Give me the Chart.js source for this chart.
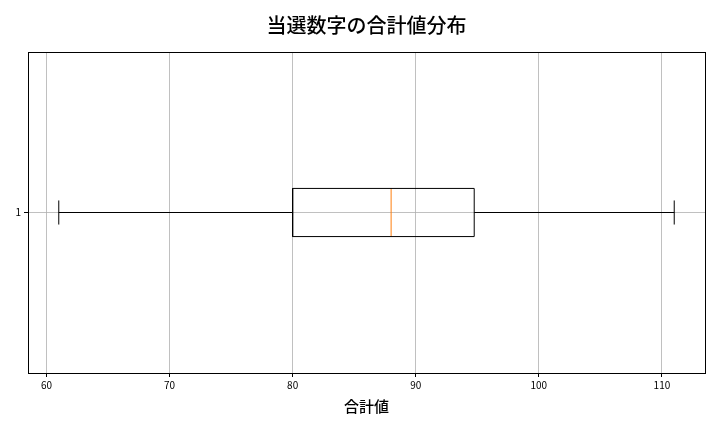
<!DOCTYPE html>
<html>
<head>
<meta charset="utf-8">
<script src="https://cdn.jsdelivr.net/npm/chart.js@4/dist/chart.umd.min.js"></script>
<style>
  html, body { margin: 0; padding: 0; background: #fff; }
  #wrap { width: 720px; height: 432px; }
</style>
</head>
<body>
<div id="wrap"><canvas id="boxChart" width="720" height="432"></canvas></div>
<script>
// ————— Datos —————
const categories = ['1'];
const whiskerLow  = [61];
const q1          = [80];
const medians     = [88];
const q3          = [94.75];
const whiskerHigh = [111];
const xTicks      = [60, 70, 80, 90, 100, 110];
const xRange      = [58.5, 113.5];

const BOX_W = 0.15;   // ancho de la caja en unidades del eje y
const CAP_W = 0.075;  // ancho de los topes

const FONT = '"Noto Sans CJK JP", "Noto Sans", sans-serif';
const BLACK = '#000000';
const GRID  = '#b0b0b0';
const ORANGE = '#ff7f0e';

// ————— Construir datasets desde las estadísticas —————
const datasets = [];
const line = (pts, color) => ({
  type: 'scatter',
  data: pts,
  showLine: true,
  borderColor: color,
  borderWidth: 1,
  pointRadius: 0,
  fill: false
});

categories.forEach((c, i) => {
  const pos = i + 1;
  const b = BOX_W / 2, k = CAP_W / 2;
  // caja
  datasets.push(line([
    { x: q1[i], y: pos - b }, { x: q3[i], y: pos - b },
    { x: q3[i], y: pos + b }, { x: q1[i], y: pos + b },
    { x: q1[i], y: pos - b }
  ], BLACK));
  // bigotes
  datasets.push(line([{ x: whiskerLow[i], y: pos }, { x: q1[i], y: pos }], BLACK));
  datasets.push(line([{ x: q3[i], y: pos }, { x: whiskerHigh[i], y: pos }], BLACK));
  // topes
  datasets.push(line([{ x: whiskerLow[i], y: pos - k }, { x: whiskerLow[i], y: pos + k }], BLACK));
  datasets.push(line([{ x: whiskerHigh[i], y: pos - k }, { x: whiskerHigh[i], y: pos + k }], BLACK));
  // mediana
  datasets.push(line([{ x: medians[i], y: pos - b }, { x: medians[i], y: pos + b }], ORANGE));
});

// marco completo alrededor del área + título centrado sobre el área
const framePlugin = {
  id: 'frame',
  afterLayout(chart) {
    const t = chart.titleBlock, a = chart.chartArea;
    if (t) { t.left = a.left; t.right = a.right; t.width = a.right - a.left; }
  },
  afterDraw(chart) {
    const { ctx, chartArea: a } = chart;
    ctx.save();
    ctx.strokeStyle = BLACK;
    ctx.lineWidth = 1;
    ctx.strokeRect(a.left + 0.5, a.top + 0.5, a.right - a.left, a.bottom - a.top);
    ctx.restore();
  }
};

new Chart(document.getElementById('boxChart'), {
  type: 'scatter',
  data: { datasets },
  options: {
    responsive: false,
    animation: false,
    layout: { padding: { left: 0, right: 15, top: 0, bottom: 0 } },
    plugins: {
      legend: { display: false },
      tooltip: { enabled: false },
      title: {
        display: true,
        text: '当選数字の合計値分布',
        color: BLACK,
        font: { family: FONT, size: 20, weight: '500' },
        padding: { top: 13, bottom: 15 }
      }
    },
    scales: {
      x: {
        type: 'linear',
        min: xRange[0],
        max: xRange[1],
        afterBuildTicks: axis => { axis.ticks = xTicks.map(v => ({ value: v })); },
        afterFit: axis => { axis.height = 59; },
        grid: { color: GRID, lineWidth: 0.8, tickColor: BLACK, tickLength: 4, tickWidth: 1 },
        border: { display: true, color: BLACK, width: 1 },
        ticks: { color: BLACK, font: { family: FONT, size: 10 }, padding: 2, maxRotation: 0 },
        title: {
          display: true,
          text: '合計値',
          color: BLACK,
          font: { family: FONT, size: 15, weight: '500' },
          padding: { top: 4, bottom: 17 }
        }
      },
      y: {
        type: 'linear',
        min: 0.5,
        max: 1.5,
        afterBuildTicks: axis => { axis.ticks = categories.map((c, i) => ({ value: i + 1 })); },
        afterFit: axis => { axis.width = 28; },
        grid: { color: GRID, lineWidth: 0.8, tickColor: BLACK, tickLength: 4, tickWidth: 1 },
        border: { display: true, color: BLACK, width: 1 },
        ticks: {
          color: BLACK,
          font: { family: FONT, size: 10 },
          padding: 3,
          callback: v => categories[Math.round(v) - 1]
        }
      }
    }
  },
  plugins: [framePlugin]
});
</script>
</body>
</html>
